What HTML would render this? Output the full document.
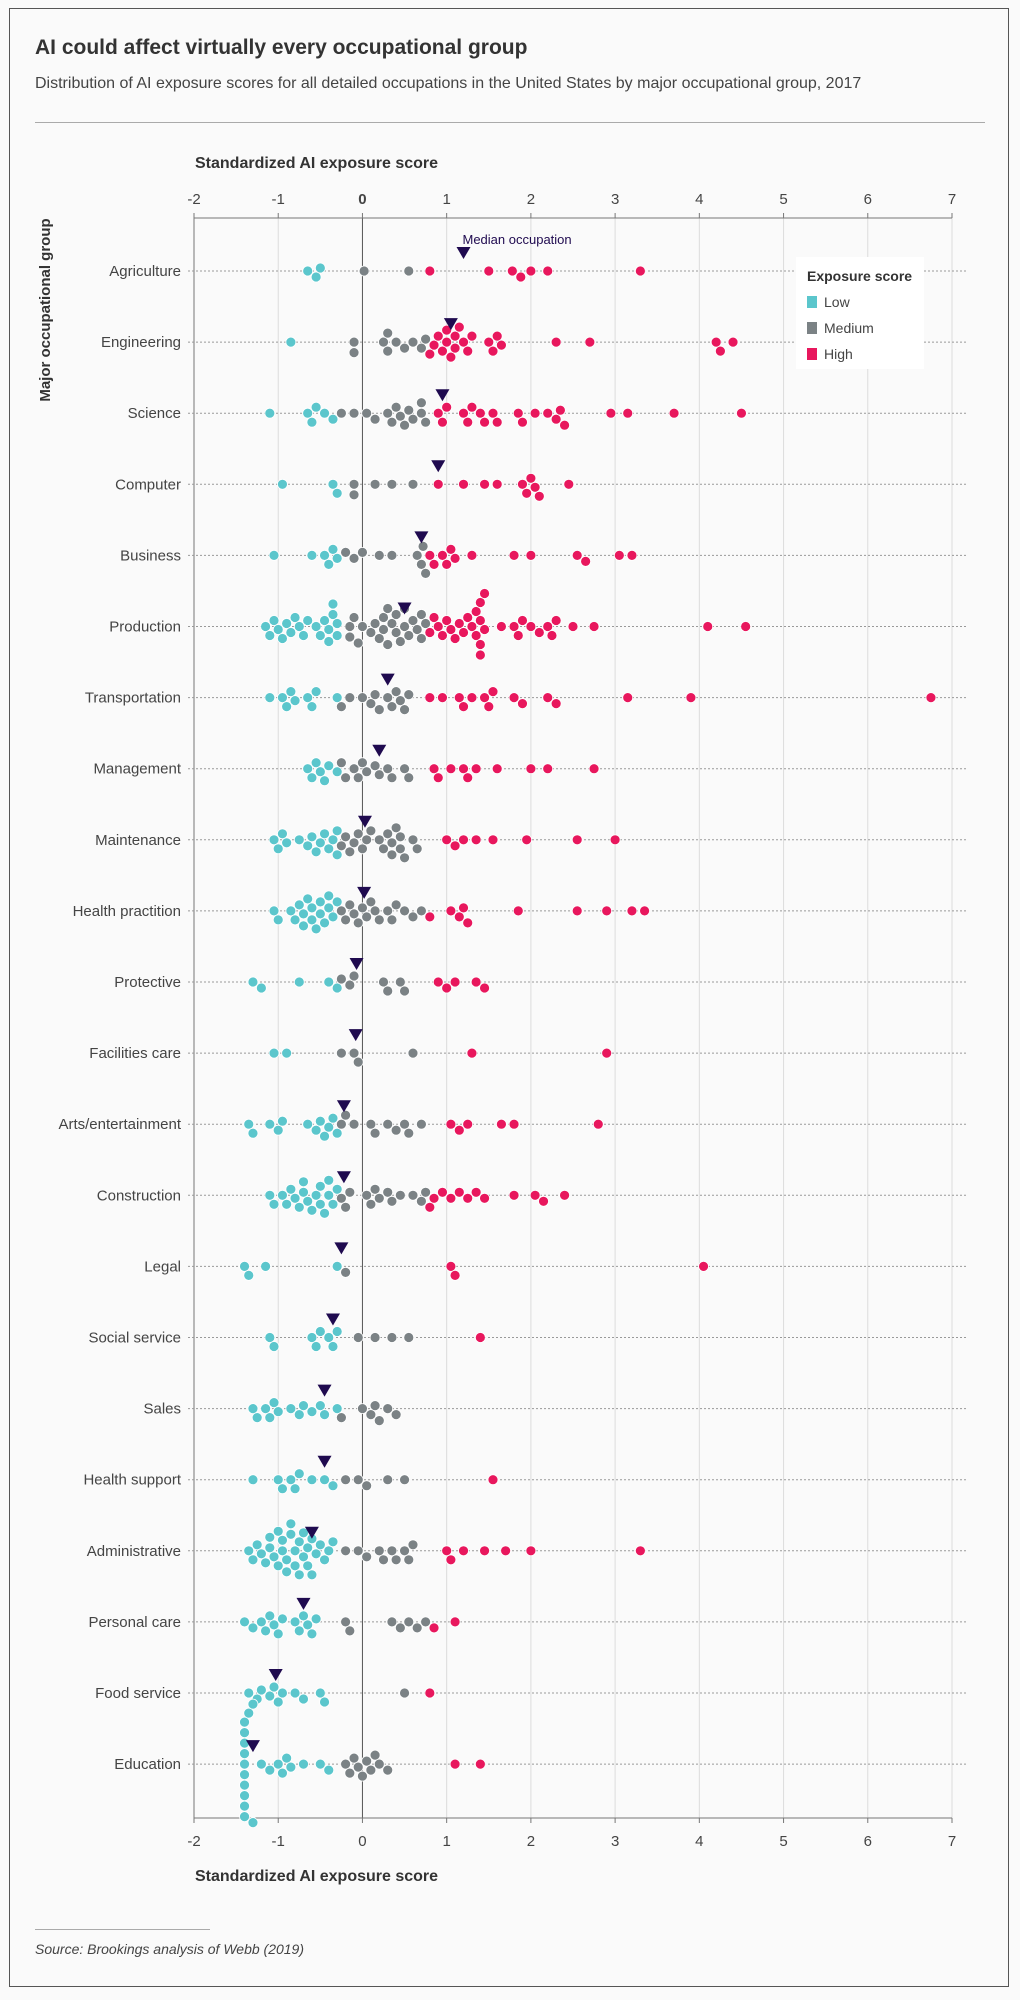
<!DOCTYPE html>
<html><head><meta charset="utf-8">
<style>
html,body{margin:0;padding:0;background:#fafafa;}
body{width:1020px;height:2000px;position:relative;font-family:"Liberation Sans",sans-serif;overflow:hidden;}
.frame{position:absolute;left:9px;top:8px;width:1000px;height:1979px;border:1px solid #555;box-sizing:border-box;}
.title{position:absolute;left:35px;top:36px;font-size:21px;font-weight:bold;color:#333;}
.sub{position:absolute;left:35px;top:75px;font-size:16px;color:#444;}
.hr{position:absolute;left:35px;top:122px;width:950px;height:1px;background:#aaa;}
.src-line{position:absolute;left:35px;top:1929px;width:175px;height:1px;background:#aaa;}
.src{position:absolute;left:35px;top:1941px;font-size:14px;font-style:italic;color:#444;}
svg{position:absolute;left:0;top:0;}
</style></head><body>
<div class="frame"></div>
<div class="title">AI could affect virtually every occupational group</div>
<div class="sub">Distribution of AI exposure scores for all detailed occupations in the United States by major occupational group, 2017</div>
<div class="hr"></div>
<svg id="chart" width="1020" height="2000"></svg>
<div class="src-line"></div>
<div class="src">Source: Brookings analysis of Webb (2019)</div>
<script>
const categories=["Agriculture","Engineering","Science","Computer","Business","Production","Transportation","Management","Maintenance","Health practition","Protective","Facilities care","Arts/entertainment","Construction","Legal","Social service","Sales","Health support","Administrative","Personal care","Food service","Education"];
const medians=[1.2,1.05,0.95,0.9,0.7,0.5,0.3,0.2,0.03,0.02,-0.07,-0.08,-0.22,-0.22,-0.25,-0.35,-0.45,-0.45,-0.6,-0.7,-1.03,-1.3];
const agriculture=[-0.65,-0.55,-0.5,0.02,0.55,0.8,1.5,1.78,1.88,2.0,2.2,3.3];
const engineering=[-0.85,-0.1,-0.1,0.25,0.3,0.3,0.4,0.5,0.6,0.7,0.75,0.8,0.85,0.9,0.95,1.0,1.0,1.05,1.1,1.1,1.15,1.2,1.25,1.3,1.5,1.55,1.6,1.65,2.3,2.7,4.2,4.25,4.4];
const science=[-1.1,-0.65,-0.6,-0.55,-0.45,-0.35,-0.25,-0.1,0.05,0.15,0.3,0.35,0.4,0.45,0.5,0.55,0.6,0.7,0.7,0.75,0.9,0.95,1.0,1.2,1.25,1.3,1.4,1.45,1.55,1.6,1.85,1.9,2.05,2.2,2.3,2.35,2.4,2.95,3.15,3.7,4.5];
const computer=[-0.95,-0.35,-0.3,-0.1,-0.1,0.15,0.35,0.6,0.9,1.2,1.45,1.6,1.9,1.95,2.0,2.05,2.1,2.45];
const business=[-1.05,-0.6,-0.45,-0.4,-0.35,-0.3,-0.2,-0.1,0.0,0.2,0.35,0.65,0.7,0.72,0.75,0.8,0.85,0.95,1.0,1.05,1.1,1.3,1.8,2.0,2.55,2.65,3.05,3.2];
const production=[-1.15,-1.1,-1.05,-1.0,-0.95,-0.9,-0.85,-0.8,-0.75,-0.7,-0.65,-0.55,-0.5,-0.45,-0.4,-0.35,-0.3,-0.3,-0.35,-0.4,-0.15,-0.15,-0.1,-0.05,0.0,0.1,0.15,0.2,0.25,0.3,0.35,0.4,0.4,0.45,0.5,0.5,0.55,0.6,0.65,0.7,0.75,0.7,0.3,0.25,0.8,0.85,0.9,0.95,1.0,1.05,1.1,1.15,1.2,1.25,1.3,1.35,1.4,1.4,1.4,1.45,1.45,1.4,1.35,1.65,1.8,1.85,1.9,2.0,2.1,2.2,2.25,2.3,2.5,2.75,4.1,4.55];
const transportation=[-1.1,-0.95,-0.9,-0.85,-0.8,-0.65,-0.6,-0.55,-0.3,-0.25,-0.15,0.0,0.1,0.15,0.2,0.3,0.35,0.4,0.45,0.5,0.55,0.8,0.95,1.15,1.2,1.3,1.45,1.5,1.55,1.8,1.9,2.2,2.3,3.15,3.9,6.75];
const management=[-0.65,-0.6,-0.55,-0.5,-0.45,-0.4,-0.3,-0.25,-0.2,-0.1,-0.05,0.0,0.05,0.15,0.2,0.3,0.35,0.5,0.55,0.85,0.9,1.05,1.2,1.25,1.35,1.6,2.0,2.2,2.75];
const maintenance=[-1.05,-1.0,-0.95,-0.9,-0.75,-0.65,-0.6,-0.55,-0.5,-0.45,-0.4,-0.35,-0.3,-0.3,-0.25,-0.2,-0.15,-0.1,-0.05,0.0,0.05,0.1,0.2,0.25,0.3,0.35,0.4,0.45,0.5,0.6,0.65,0.45,0.35,1.0,1.1,1.2,1.35,1.55,1.95,2.55,3.0];
const healthPract=[-1.05,-1.0,-0.85,-0.8,-0.75,-0.7,-0.65,-0.6,-0.55,-0.5,-0.45,-0.4,-0.35,-0.3,-0.7,-0.6,-0.5,-0.4,-0.25,-0.2,-0.15,-0.1,-0.05,0.0,0.05,0.1,0.15,0.2,0.3,0.35,0.4,0.5,0.6,0.7,0.8,1.05,1.15,1.2,1.25,1.85,2.55,2.9,3.2,3.35];
const protective=[-1.3,-1.2,-0.75,-0.4,-0.3,-0.25,-0.15,-0.1,0.25,0.3,0.45,0.5,0.9,1.0,1.1,1.35,1.45];
const facilities=[-1.05,-0.9,-0.25,-0.1,-0.05,0.6,1.3,2.9];
const arts=[-1.35,-1.3,-1.1,-1.0,-0.95,-0.65,-0.55,-0.5,-0.45,-0.4,-0.35,-0.3,-0.25,-0.2,-0.1,0.1,0.15,0.3,0.4,0.5,0.55,0.7,1.05,1.15,1.25,1.65,1.8,2.8];
const construction=[-1.1,-1.05,-0.95,-0.9,-0.85,-0.8,-0.75,-0.7,-0.65,-0.6,-0.55,-0.5,-0.45,-0.4,-0.35,-0.3,-0.25,-0.7,-0.5,-0.4,-0.2,-0.15,0.05,0.1,0.15,0.2,0.3,0.35,0.45,0.6,0.7,0.75,0.8,0.85,0.95,1.05,1.15,1.25,1.35,1.45,1.8,2.05,2.15,2.4];
const legal=[-1.4,-1.35,-1.15,-0.3,-0.2,1.05,1.1,4.05];
const socialService=[-1.1,-1.05,-0.6,-0.55,-0.5,-0.4,-0.35,-0.3,-0.05,0.15,0.35,0.55,1.4];
const sales=[-1.3,-1.25,-1.15,-1.1,-1.05,-1.0,-0.85,-0.75,-0.7,-0.6,-0.5,-0.45,-0.3,-0.25,0.0,0.1,0.15,0.2,0.3,0.4];
const healthSupport=[-1.3,-1.0,-0.95,-0.85,-0.8,-0.75,-0.6,-0.45,-0.35,-0.2,-0.05,0.05,0.3,0.5,1.55];
const administrative=[-1.35,-1.3,-1.25,-1.2,-1.15,-1.1,-1.05,-1.0,-0.95,-0.9,-0.85,-0.8,-0.75,-0.7,-0.65,-0.6,-0.55,-0.5,-0.45,-0.4,-0.35,-1.0,-0.9,-0.8,-0.7,-0.6,-1.1,-0.95,-0.85,-0.75,-0.65,-0.2,-0.05,0.05,0.2,0.25,0.35,0.4,0.5,0.55,0.6,1.0,1.05,1.2,1.45,1.7,2.0,3.3];
const personalCare=[-1.4,-1.3,-1.2,-1.15,-1.1,-1.05,-1.0,-0.95,-0.8,-0.75,-0.7,-0.65,-0.6,-0.55,-0.2,-0.15,0.35,0.45,0.55,0.65,0.75,0.85,1.1];
const foodService=[-1.35,-1.25,-1.2,-1.1,-1.05,-1.0,-0.95,-0.8,-0.7,-0.5,-0.45,0.5,0.8];
const education=[-1.4,-1.4,-1.4,-1.4,-1.4,-1.4,-1.4,-1.4,-1.4,-1.4,-1.35,-1.3,-1.3,-1.2,-1.1,-1.0,-0.95,-0.9,-0.85,-0.7,-0.5,-0.4,-0.2,-0.15,-0.1,-0.05,0.0,0.05,0.1,0.15,0.2,0.3,1.1,1.4];
const series=[agriculture,engineering,science,computer,business,production,transportation,management,maintenance,healthPract,protective,facilities,arts,construction,legal,socialService,sales,healthSupport,administrative,personalCare,foodService,education];
const xTicks=[-2,-1,0,1,2,3,4,5,6,7];
const lowMax=-0.28, highMin=0.78;

const NS="http://www.w3.org/2000/svg";
const svg=document.getElementById('chart');
const X0=194,X1=952,XMIN=-2,XMAX=7,TOP=218,BOT=1818,ROW0=271,ROWSTEP=71.1;
const xs=v=>X0+(v-XMIN)/(XMAX-XMIN)*(X1-X0);
const ys=i=>ROW0+i*ROWSTEP;
function mk(tag,attrs,parent){const e=document.createElementNS(NS,tag);for(const k in attrs)e.setAttribute(k,attrs[k]);(parent||svg).appendChild(e);return e;}
function txt(s,attrs,parent){const e=mk('text',attrs,parent);e.textContent=s;return e;}

xTicks.forEach(t=>{
  const g=mk('line',{x1:xs(t),x2:xs(t),y1:TOP,y2:BOT,stroke:t===0?'#555':'#dcdcdc','stroke-width':1});
  
  
  [[TOP-5,TOP],[BOT,BOT+5]].forEach(p=>mk('line',{x1:xs(t),x2:xs(t),y1:p[0],y2:p[1],stroke:'#777'}));
  const a=txt(String(t),{x:xs(t),y:204,'text-anchor':'middle','font-size':15,fill:'#444','font-weight':t===0?'bold':'normal'});
  
  
  const b=txt(String(t),{x:xs(t),y:1846,'text-anchor':'middle','font-size':15,fill:'#444'});
  
  
});
mk('line',{x1:X0,x2:X1,y1:TOP,y2:TOP,stroke:'#777'});
mk('line',{x1:X0,x2:X1,y1:BOT,y2:BOT,stroke:'#777'});
mk('line',{x1:X0,x2:X0,y1:TOP,y2:BOT,stroke:'#777'});

const t1=txt('Standardized AI exposure score',{x:195,y:168,'font-size':16,'font-weight':'bold',fill:'#333'});


const t2=txt('Standardized AI exposure score',{x:195,y:1881,'font-size':16,'font-weight':'bold',fill:'#333'});


const yt=txt('Major occupational group',{x:0,y:0,'font-size':15,'font-weight':'bold',fill:'#333','text-anchor':'middle',transform:'translate(50,310) rotate(-90)'});



const R=5, D=9.6;
categories.forEach((c,i)=>{
  const y=ys(i);
  const rl=mk('line',{x1:188,x2:966,y1:y,y2:y,stroke:'#999','stroke-dasharray':'2,2','stroke-width':1});
  
  
  const lb=txt(c,{x:181,y:y+5,'text-anchor':'end','font-size':15,fill:'#444'});
  
  
  const vals=series[i].slice().sort((a,b)=>a-b);
  const placed=[];
  vals.forEach(v=>{
    const px=xs(v);
    let off=0;
    for(let k=0;k<300;k++){
      const cand=k===0?0:(k%2?1:-1)*Math.ceil(k/2)*1.5;
      if(placed.every(p=>(p[0]-px)**2+(p[1]-cand)**2>=D*D)){off=cand;break;}
    }
    placed.push([px,off]);
    const col=v<lowMax?'#5bc6cc':(v>=highMin?'#e8175d':'#7b8285');
    const d=mk('circle',{cx:px,cy:y+off,r:R,fill:col,stroke:'#fff','stroke-width':0.8});
    
    
  });
  const mx=xs(medians[i]), my=y-17;
  const tri=mk('path',{d:`M${mx-7},${my-7} L${mx+7},${my-7} L${mx},${my+5} Z`,fill:'#1f0a4f'});
  
  
});
const ml=txt('Median occupation',{x:xs(medians[0])-1,y:244,'font-size':13,fill:'#1f0a4f'});



const lg=mk('g',{});


mk('rect',{x:796,y:257,width:128,height:112,fill:'#fff'},lg);
txt('Exposure score',{x:807,y:281,'font-size':14,'font-weight':'bold',fill:'#333'},lg);
[['Low','#5bc6cc'],['Medium','#7b8285'],['High','#e8175d']].forEach((e,k)=>{
  const ey=302+k*26;
  const s=mk('rect',{x:807,y:ey-6,width:10,height:12,fill:e[1]},lg);
  
  
  const t=txt(e[0],{x:824,y:ey+5,'font-size':14,fill:'#444'},lg);
  
  
});
</script>
</body></html>
